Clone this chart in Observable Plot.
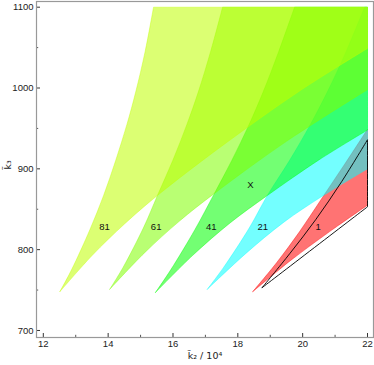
<!DOCTYPE html>
<html>
<head>
<meta charset="utf-8">
<script src="https://cdn.jsdelivr.net/npm/d3@7"></script>
<script src="https://cdn.jsdelivr.net/npm/@observablehq/plot@0.6"></script>
<style>
  html, body { margin: 0; padding: 0; background: white; }
</style>
</head>
<body>
<div id="chart"></div>
<script>
// ---- data ----
const bandNames = ["1", "21", "41", "61", "81"];
const bandColors = ["#ff0000", "#00ffff", "#00ff00", "#80ff00", "#c0ff00"];

// upper / left boundaries (x = k2/1e4, y = k3), from apex upward
const upper1  = [[18.46,748],[19.2,784],[19.9,822],[20.6,864],[21.3,906],[22,949]];
const upper21 = [[17.06,751],[17.56,778],[18.37,828],[18.91,867],[19.59,910],[20.24,955],[20.76,995],[21.34,1045],[21.91,1100],[22,1100]];
const upper41 = [[15.46,747],[15.93,775],[16.68,825],[17.27,869],[17.81,910],[18.35,955],[18.78,995],[19.26,1045],[19.75,1100],[22,1100]];
const upper61 = [[14.05,751],[14.46,778],[15.10,828],[15.52,867],[15.99,910],[16.43,955],[16.78,995],[17.16,1045],[17.53,1100],[22,1100]];
const upper81 = [[12.51,748],[12.87,775],[13.44,825],[13.86,867],[14.23,910],[14.58,955],[14.85,995],[15.14,1045],[15.40,1100],[22,1100]];

// lower / right boundaries, from apex to the right edge
const lower1  = [[18.46,748],[19.64,787],[20.82,822],[22,855]];
const lower21 = [[17.06,751],[18.24,795],[19.42,834],[20.6,866],[22,900]];
const lower41 = [[15.46,747],[16.61,793],[17.76,833],[18.91,867],[20.5,911],[22,948]];
const lower61 = [[14.05,751],[15.12,796],[16.19,835],[17.26,869],[19.5,934],[22,998]];
const lower81 = [[12.51,748],[13.51,793],[14.51,832],[15.52,867],[17.5,928],[19.93,997],[22,1049]];

// black outlined region
const outlineUpper = [[18.75,753],[19.6,795],[20.4,837],[21.2,884],[22,936]];
const outlineLower = [[18.75,753],[22,853]];

// labels
const labelText = ["81", "61", "41", "21", "1", "X"];
const labelX = [13.89, 15.48, 17.18, 18.77, 20.48, 18.39];
const labelY = [828, 828, 828, 828, 828, 880];

// ticks
const xMajor = [12, 14, 16, 18, 20, 22];
const xMinor = [13, 15, 17, 19, 21];
const yMajor = [700, 800, 900, 1000, 1100];
const yMinor = [750, 850, 950, 1050];

// ---- layout ----
const W = 374, H = 365;
const mt = 1, mb = 28, ml = 36, mr = 1;
const xDom = [11.79, 22.185], yDom = [691.3, 1107.05];
const kx = (W - ml - mr) / (xDom[1] - xDom[0]);
const ky = (H - mt - mb) / (yDom[1] - yDom[0]);

// corners (on the clip edges) are repeated so the smooth curve keeps them sharp
const isCorner = ([x, y]) => x >= 22 || y >= 1100;
function ring(upper, lower) {
  const pts = [];
  for (const p of upper.concat(lower.slice().reverse())) {
    pts.push(p);
    if (isCorner(p)) pts.push(p);
  }
  return pts.map(([x, y]) => ({x, y}));
}

const uppers = [upper1, upper21, upper41, upper61, upper81];
const lowers = [lower1, lower21, lower41, lower61, lower81];
const polys = bandNames.map((name, i) => ring(uppers[i], lowers[i]));
const outline = ring(outlineUpper, outlineLower);
const labels = labelText.map((t, i) => ({t, x: labelX[i], y: labelY[i]}));

const marks = [];
polys.forEach((p, i) => {
  marks.push(Plot.line(p, {x: "x", y: "y", curve: "catmull-rom", fill: bandColors[i], fillOpacity: 0.55,
    stroke: bandColors[i], strokeOpacity: 0.5, strokeWidth: 0.8}));
});
marks.push(Plot.line(outline, {x: "x", y: "y", curve: "catmull-rom", stroke: "#000", strokeWidth: 0.9, fill: "none"}));
marks.push(Plot.text(labels, {x: "x", y: "y", text: "t", fontSize: 9.5, fill: "#111"}));
// inward ticks
marks.push(Plot.ruleX(xMajor, {x: d => d, y1: yDom[0], y2: yDom[0] + 4 / ky, stroke: "#333"}));
marks.push(Plot.ruleX(xMinor, {x: d => d, y1: yDom[0], y2: yDom[0] + 2.2 / ky, stroke: "#555"}));
marks.push(Plot.ruleY(yMajor, {y: d => d, x1: xDom[0], x2: xDom[0] + 4 / kx, stroke: "#333"}));
marks.push(Plot.ruleY(yMinor, {y: d => d, x1: xDom[0], x2: xDom[0] + 2.2 / kx, stroke: "#555"}));
marks.push(Plot.axisX(xMajor, {tickSize: 0, tickPadding: 3, label: null, tickFormat: d3.format("d"), fontSize: 9.5, fill: "#222"}));
marks.push(Plot.axisY(yMajor, {tickSize: 0, tickPadding: 3, label: null, tickFormat: d3.format("d"), fontSize: 9.5, fill: "#222"}));
marks.push(Plot.frame({stroke: "#999", strokeWidth: 1.2}));
marks.push(Plot.text(["k\u0303\u2082 / 10\u2074"], {frameAnchor: "bottom", dy: 21, fontSize: 9.5, fill: "#222",
  fontFamily: "DejaVu Sans, sans-serif"}));
marks.push(Plot.text(["k\u0303\u2083"], {frameAnchor: "left", dx: -29, rotate: -90, fontSize: 9.5, fill: "#222",
  fontFamily: "DejaVu Sans, sans-serif"}));

const chart = Plot.plot({
  width: W, height: H,
  marginTop: mt, marginBottom: mb, marginLeft: ml, marginRight: mr,
  x: {domain: xDom},
  y: {domain: yDom},
  style: {fontFamily: "Liberation Sans, Arial, sans-serif", background: "white"},
  marks
});
document.getElementById("chart").appendChild(chart);
</script>
</body>
</html>
